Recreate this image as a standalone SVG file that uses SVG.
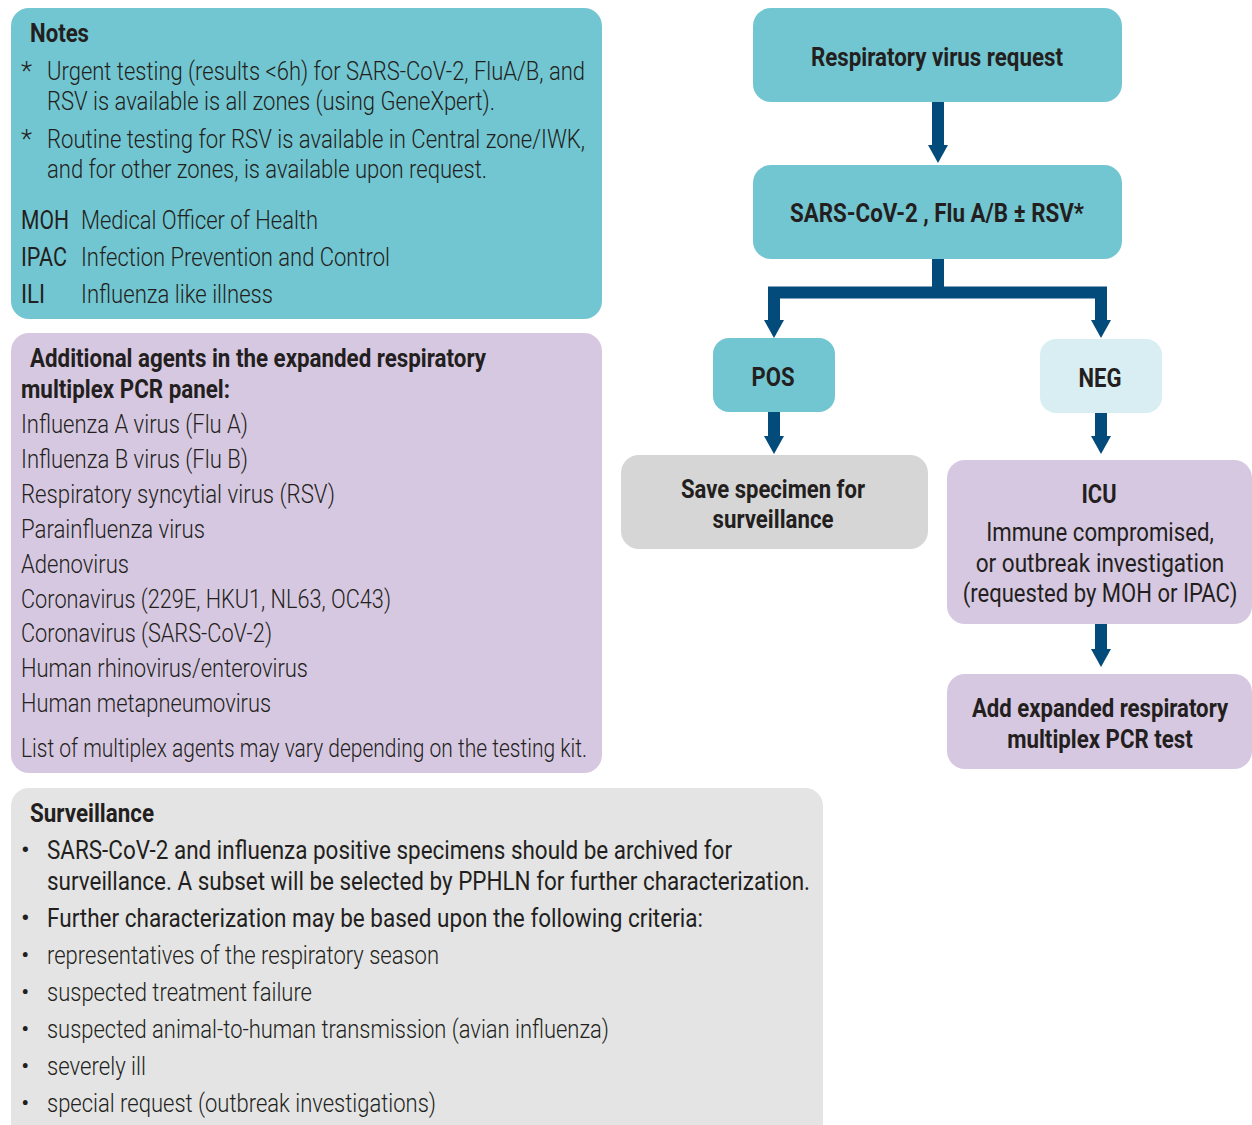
<svg xmlns="http://www.w3.org/2000/svg" width="1252" height="1125" viewBox="0 0 1252 1125">
<style>
text{font-family:Roboto,"Liberation Sans",sans-serif;fill:#231F20;font-size:26px}
.b{font-weight:700;font-size:25px}
.l{font-weight:300}
.r{font-weight:400}
.c{text-anchor:middle}
.teal{fill:#72C6D1}
.purple{fill:#D7C8E1}
.gray{fill:#D6D6D6}
.lgray{fill:#E4E4E4}
.neg{fill:#D9EEF3}
.conn{fill:none;stroke:#024B7B;stroke-width:12;stroke-linejoin:miter}
</style>
<defs>
<marker id="ah" markerUnits="userSpaceOnUse" markerWidth="18" markerHeight="20" viewBox="0 -10 18 20" refX="0" refY="0" orient="auto">
<path d="M0,-10 L18,0 L0,10 z" fill="#024B7B"/>
</marker>
</defs>

<g id="notes">
<rect x="11" y="8" width="591" height="311" rx="18" class="teal"/>
<text x="30" y="42" class="b" textLength="59" lengthAdjust="spacingAndGlyphs">Notes</text>
<text x="21" y="80" class="l">*</text>
<text x="47" y="80" class="l" textLength="538" lengthAdjust="spacingAndGlyphs">Urgent testing (results &lt;6h) for SARS-CoV-2, FluA/B, and</text>
<text x="47" y="110" class="l" textLength="448" lengthAdjust="spacingAndGlyphs">RSV is available is all zones (using GeneXpert).</text>
<text x="21" y="148" class="l">*</text>
<text x="47" y="148" class="l" textLength="538" lengthAdjust="spacingAndGlyphs">Routine testing for RSV is available in Central zone/IWK,</text>
<text x="47" y="178" class="l" textLength="440" lengthAdjust="spacingAndGlyphs">and for other zones, is available upon request.</text>
<text x="21" y="229" class="r" textLength="48" lengthAdjust="spacingAndGlyphs">MOH</text>
<text x="81" y="229" class="l" textLength="237" lengthAdjust="spacingAndGlyphs">Medical Officer of Health</text>
<text x="21" y="266" class="r" textLength="46" lengthAdjust="spacingAndGlyphs">IPAC</text>
<text x="81" y="266" class="l" textLength="309" lengthAdjust="spacingAndGlyphs">Infection Prevention and Control</text>
<text x="21" y="303" class="r" textLength="24" lengthAdjust="spacingAndGlyphs">ILI</text>
<text x="81" y="303" class="l" textLength="192" lengthAdjust="spacingAndGlyphs">Influenza like illness</text>
</g>

<g id="panel">
<rect x="11" y="333" width="591" height="440" rx="18" class="purple"/>
<text x="30" y="367" class="b" textLength="456" lengthAdjust="spacingAndGlyphs">Additional agents in the expanded respiratory</text>
<text x="21" y="398" class="b" textLength="209" lengthAdjust="spacingAndGlyphs">multiplex PCR panel:</text>
<text x="21" y="433" class="l" textLength="227" lengthAdjust="spacingAndGlyphs">Influenza A virus (Flu A)</text>
<text x="21" y="468" class="l" textLength="227" lengthAdjust="spacingAndGlyphs">Influenza B virus (Flu B)</text>
<text x="21" y="503" class="l" textLength="314" lengthAdjust="spacingAndGlyphs">Respiratory syncytial virus (RSV)</text>
<text x="21" y="538" class="l" textLength="184" lengthAdjust="spacingAndGlyphs">Parainfluenza virus</text>
<text x="21" y="573" class="l" textLength="108" lengthAdjust="spacingAndGlyphs">Adenovirus</text>
<text x="21" y="608" class="l" textLength="370" lengthAdjust="spacingAndGlyphs">Coronavirus (229E, HKU1, NL63, OC43)</text>
<text x="21" y="642" class="l" textLength="251" lengthAdjust="spacingAndGlyphs">Coronavirus (SARS-CoV-2)</text>
<text x="21" y="677" class="l" textLength="287" lengthAdjust="spacingAndGlyphs">Human rhinovirus/enterovirus</text>
<text x="21" y="712" class="l" textLength="250" lengthAdjust="spacingAndGlyphs">Human metapneumovirus</text>
<text x="21" y="757" class="l" textLength="566" lengthAdjust="spacingAndGlyphs">List of multiplex agents may vary depending on the testing kit.</text>
</g>

<g id="surveillance">
<rect x="11" y="788" width="812" height="360" rx="18" class="lgray"/>
<text x="30" y="822" class="b" textLength="124" lengthAdjust="spacingAndGlyphs">Surveillance</text>
<text x="21" y="859" class="r">•</text>
<text x="47" y="859" class="r" textLength="685" lengthAdjust="spacingAndGlyphs">SARS-CoV-2 and influenza positive specimens should be archived for</text>
<text x="47" y="890" class="r" textLength="763" lengthAdjust="spacingAndGlyphs">surveillance. A subset will be selected by PPHLN for further characterization.</text>
<text x="21" y="927" class="r">•</text>
<text x="47" y="927" class="r" textLength="656" lengthAdjust="spacingAndGlyphs">Further characterization may be based upon the following criteria:</text>
<text x="21" y="964" class="l">•</text>
<text x="47" y="964" class="l" textLength="392" lengthAdjust="spacingAndGlyphs">representatives of the respiratory season</text>
<text x="21" y="1001" class="l">•</text>
<text x="47" y="1001" class="l" textLength="265" lengthAdjust="spacingAndGlyphs">suspected treatment failure</text>
<text x="21" y="1038" class="l">•</text>
<text x="47" y="1038" class="l" textLength="562" lengthAdjust="spacingAndGlyphs">suspected animal-to-human transmission (avian influenza)</text>
<text x="21" y="1075" class="l">•</text>
<text x="47" y="1075" class="l" textLength="99" lengthAdjust="spacingAndGlyphs">severely ill</text>
<text x="21" y="1112" class="l">•</text>
<text x="47" y="1112" class="l" textLength="389" lengthAdjust="spacingAndGlyphs">special request (outbreak investigations)</text>
</g>

<g id="request">
<rect x="753" y="8" width="369" height="94" rx="18" class="teal"/>
<text x="937" y="66" class="b c" textLength="252" lengthAdjust="spacingAndGlyphs">Respiratory virus request</text>
</g>

<g id="sars">
<rect x="753" y="165" width="369" height="94" rx="18" class="teal"/>
<text x="937" y="222" class="b c" textLength="294" lengthAdjust="spacingAndGlyphs">SARS-CoV-2 , Flu A/B ± RSV*</text>
</g>

<g id="pos">
<rect x="713" y="338" width="122" height="74" rx="16" class="teal"/>
<text x="773" y="386" class="b c" textLength="43" lengthAdjust="spacingAndGlyphs">POS</text>
</g>

<g id="neg">
<rect x="1040" y="339" width="122" height="74" rx="16" class="neg"/>
<text x="1100" y="387" class="b c" textLength="43" lengthAdjust="spacingAndGlyphs">NEG</text>
</g>

<g id="save">
<rect x="621" y="455" width="307" height="94" rx="18" class="gray"/>
<text x="773" y="498" class="b c" textLength="184" lengthAdjust="spacingAndGlyphs">Save specimen for</text>
<text x="773" y="528" class="b c" textLength="121" lengthAdjust="spacingAndGlyphs">surveillance</text>
</g>

<g id="icu">
<rect x="947" y="460" width="305" height="164" rx="18" class="purple"/>
<text x="1099" y="503" class="b c" textLength="35" lengthAdjust="spacingAndGlyphs">ICU</text>
<text transform="translate(1100,541) scale(0.84,1)" x="0" y="0" class="r c" textLength="271" lengthAdjust="spacingAndGlyphs">Immune compromised,</text>
<text transform="translate(1100,572) scale(0.84,1)" x="0" y="0" class="r c" textLength="296" lengthAdjust="spacingAndGlyphs">or outbreak investigation</text>
<text transform="translate(1100,602) scale(0.84,1)" x="0" y="0" class="r c" textLength="327" lengthAdjust="spacingAndGlyphs">(requested by MOH or IPAC)</text>
</g>

<g id="expanded">
<rect x="947" y="674" width="305" height="95" rx="18" class="purple"/>
<text transform="translate(1100,717) scale(0.84,1)" x="0" y="0" class="b c" textLength="305" lengthAdjust="spacingAndGlyphs">Add expanded respiratory</text>
<text transform="translate(1100,748) scale(0.84,1)" x="0" y="0" class="b c" textLength="221" lengthAdjust="spacingAndGlyphs">multiplex PCR test</text>
</g>

<g id="connectors">
<path class="conn" d="M938,102 V145" marker-end="url(#ah)"/>
<path class="conn" d="M938,259 V292.5"/>
<path class="conn" d="M938,292.5 H774 V320" marker-end="url(#ah)"/>
<path class="conn" d="M938,292.5 H1101 V320" marker-end="url(#ah)"/>
<path class="conn" d="M774,412 V436" marker-end="url(#ah)"/>
<path class="conn" d="M1101,413 V436" marker-end="url(#ah)"/>
<path class="conn" d="M1101,624 V649" marker-end="url(#ah)"/>
</g>
</svg>
